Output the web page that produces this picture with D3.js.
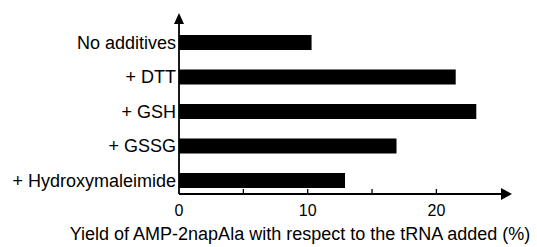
<!DOCTYPE html>
<html>
<head>
<meta charset="utf-8">
<script src="https://cdn.jsdelivr.net/npm/d3@7"></script>
<style>
  body { margin: 0; background: #fff; }
  text { font-family: "Liberation Sans", Arial, sans-serif; fill: #000; }
</style>
</head>
<body>
<div id="chart"></div>
<script>
const categories = ["No additives", "+ DTT", "+ GSH", "+ GSSG", "+ Hydroxymaleimide"];
const yields = [10.3, 21.5, 23.1, 16.9, 12.9];
const tickValues = [5, 10, 15, 20];
const tickLabels = [0, 10, 20];
const xTitle = "Yield of AMP-2napAla with respect to the tRNA added (%)";

const width = 537, height = 247;
const originX = 179, originY = 194;

const svg = d3.select("#chart")
    .append("svg")
    .attr("width", width)
    .attr("height", height);

const x = d3.scaleLinear()
    .domain([0, 10])
    .range([originX, originX + 128.7]);

const y = d3.scaleBand()
    .domain(categories)
    .range([35, 188])
    .paddingInner(0.565)
    .paddingOuter(0);

// Bars
svg.selectAll(".bar")
    .data(categories)
    .enter()
    .append("rect")
    .attr("class", "bar")
    .attr("x", x(0))
    .attr("y", d => y(d))
    .attr("width", (d, i) => x(yields[i]) - x(0))
    .attr("height", y.bandwidth())
    .attr("fill", "#000");

// Category labels
svg.selectAll(".cat")
    .data(categories)
    .enter()
    .append("text")
    .attr("class", "cat")
    .attr("x", originX - 3)
    .attr("y", d => y(d) + y.bandwidth() / 2)
    .attr("dy", "0.36em")
    .attr("text-anchor", "end")
    .style("font-size", "18px")
    .text(d => d);

// Axes lines with arrowheads
const axisEndX = 501;
svg.append("line")
    .attr("x1", originX).attr("y1", originY)
    .attr("x2", axisEndX).attr("y2", originY)
    .attr("stroke", "#000").attr("stroke-width", 1.8);
svg.append("path")
    .attr("d", `M${axisEndX},${originY - 6} L${axisEndX + 11},${originY} L${axisEndX},${originY + 6} Z`)
    .attr("fill", "#000");

const axisTopY = 24;
svg.append("line")
    .attr("x1", originX).attr("y1", originY)
    .attr("x2", originX).attr("y2", axisTopY)
    .attr("stroke", "#000").attr("stroke-width", 1.8);
svg.append("path")
    .attr("d", `M${originX - 5},${axisTopY} L${originX},${axisTopY - 11} L${originX + 5},${axisTopY} Z`)
    .attr("fill", "#000");

// Ticks pointing inward
svg.selectAll(".tick")
    .data(tickValues)
    .enter()
    .append("line")
    .attr("class", "tick")
    .attr("x1", d => x(d)).attr("x2", d => x(d))
    .attr("y1", originY).attr("y2", originY - 5)
    .attr("stroke", "#000").attr("stroke-width", 1.3);

svg.selectAll(".tlabel")
    .data(tickLabels)
    .enter()
    .append("text")
    .attr("class", "tlabel")
    .attr("x", d => x(d))
    .attr("y", 216)
    .attr("text-anchor", "middle")
    .style("font-size", "16px")
    .text(d => d);

svg.append("text")
    .attr("x", 300)
    .attr("y", 240)
    .attr("text-anchor", "middle")
    .style("font-size", "18px")
    .text(xTitle);
</script>
</body>
</html>
